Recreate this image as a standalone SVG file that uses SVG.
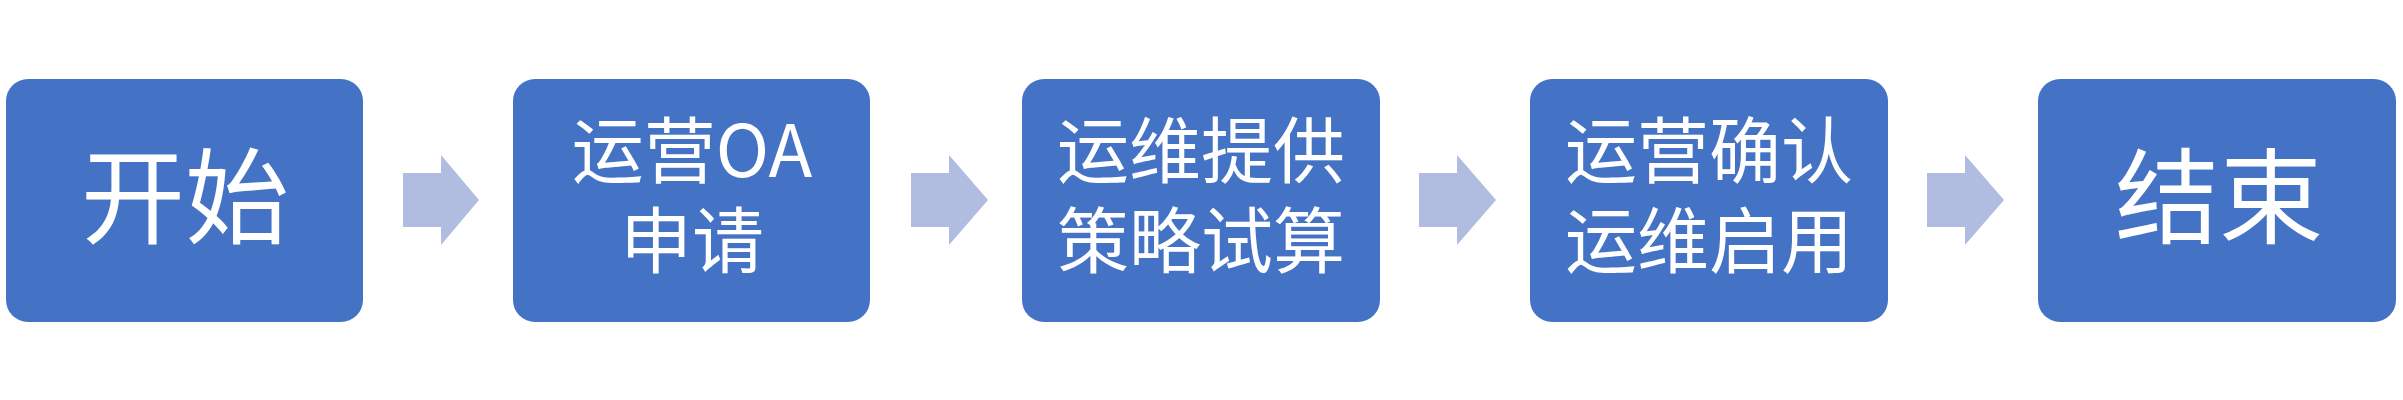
<svg xmlns="http://www.w3.org/2000/svg" width="2403" height="400" viewBox="0 0 2403 400">
<style>
.box{fill:#4472C4;}
.arr{fill:#B0BDE0;}
.t{fill:#FFFFFF;font-family:"Noto Sans CJK SC","Noto Sans",sans-serif;text-anchor:middle;}
.big{font-size:104px;}
.mid{font-size:72px;}
</style>
<rect width="2403" height="400" fill="#FFFFFF"/>
<g id="connectors">
<polygon class="arr" points="403,173 441,173 441,155 479,200 441,245 441,227 403,227"/>
<polygon class="arr" points="911,173 949,173 949,155 988,200 949,245 949,227 911,227"/>
<polygon class="arr" points="1419,173 1457,173 1457,155 1496,200 1457,245 1457,227 1419,227"/>
<polygon class="arr" points="1927,173 1965,173 1965,155 2004,200 1965,245 1965,227 1927,227"/>
</g>
<g id="node-start">
<rect class="box" x="6" y="79" width="357" height="243" rx="22" ry="22"/>
<text class="t big" x="185" y="236">开始</text>
</g>
<g id="node-apply">
<rect class="box" x="513" y="79" width="357" height="243" rx="22" ry="22"/>
<text class="t mid" x="692" y="177">运营OA</text>
<text class="t mid" x="692" y="267">申请</text>
</g>
<g id="node-trial">
<rect class="box" x="1022" y="79" width="358" height="243" rx="22" ry="22"/>
<text class="t mid" x="1201" y="177">运维提供</text>
<text class="t mid" x="1201" y="267">策略试算</text>
</g>
<g id="node-confirm">
<rect class="box" x="1530" y="79" width="358" height="243" rx="22" ry="22"/>
<text class="t mid" x="1709" y="177">运营确认</text>
<text class="t mid" x="1709" y="267">运维启用</text>
</g>
<g id="node-end">
<rect class="box" x="2038" y="79" width="358" height="243" rx="22" ry="22"/>
<text class="t big" x="2219" y="236">结束</text>
</g>
</svg>
